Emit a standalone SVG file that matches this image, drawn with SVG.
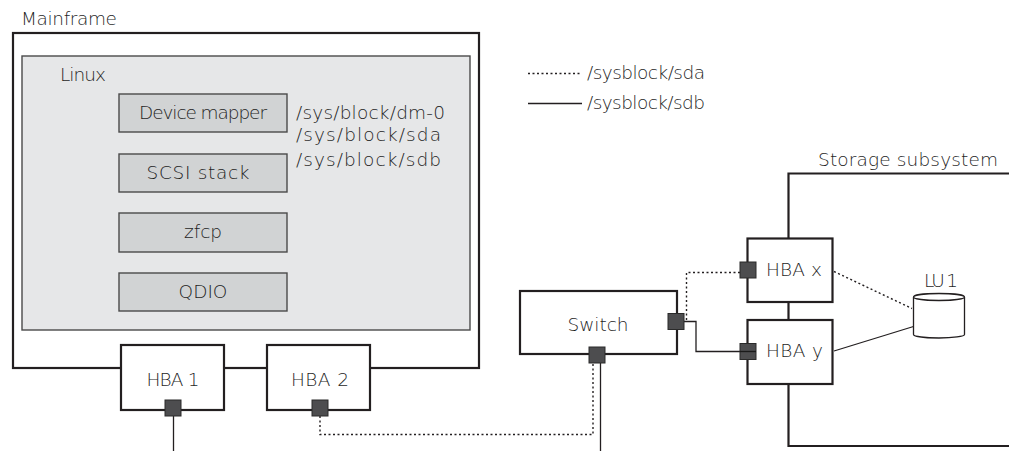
<svg xmlns="http://www.w3.org/2000/svg" width="1009" height="451" viewBox="0 0 1009 451">
  <style>
    text { font-family: "DejaVu Sans", "Liberation Sans", sans-serif; font-size: 18.5px; fill: #1f1f1f; font-weight: 200; }
    .mid { text-anchor: middle; }
    .frame { fill: #ffffff; stroke: #231f20; stroke-width: 2.2; }
    .layer { fill: #d1d3d4; stroke: #4a4a4a; stroke-width: 1.4; }
    .port { fill: #4d4d4f; stroke: #2a2a2a; stroke-width: 1; }
    .wire { fill: none; stroke: #231f20; stroke-width: 1.3; }
    .dot { fill: none; stroke: #231f20; stroke-width: 1.4; stroke-dasharray: 2 2.5; }
    .edge { fill: none; stroke: #231f20; stroke-width: 2.2; }
  </style>

  <!-- mainframe with the Linux image -->
  <g id="mainframe">
    <rect class="frame" x="13" y="33" width="466" height="335"/>
    <text x="21" y="25" textLength="96">Mainframe</text>
  </g>
  <g id="linux">
    <rect x="22" y="56" width="448" height="274" fill="#e6e7e8" stroke="#4a4a4a" stroke-width="1.4"/>
    <text x="60" y="81" textLength="46">Linux</text>
  </g>
  <g id="device-mapper">
    <rect class="layer" x="119" y="94" width="168" height="38"/>
    <text class="mid" x="203" y="119" textLength="128">Device mapper</text>
    <text x="296" y="119" textLength="149">/sys/block/dm-0</text>
  </g>
  <g id="scsi-stack">
    <rect class="layer" x="119" y="154" width="168" height="38"/>
    <text class="mid" x="198" y="179" textLength="103">SCSI stack</text>
    <text x="296" y="141" textLength="145">/sys/block/sda</text>
    <text x="296" y="166" textLength="145">/sys/block/sdb</text>
  </g>
  <g id="zfcp">
    <rect class="layer" x="119" y="213" width="168" height="39"/>
    <text class="mid" x="203" y="238">zfcp</text>
  </g>
  <g id="qdio">
    <rect class="layer" x="119" y="273" width="168" height="38"/>
    <text class="mid" x="203" y="298">QDIO</text>
  </g>

  <!-- host bus adapters on the mainframe edge -->
  <g id="hba1">
    <rect class="frame" x="121" y="345" width="103" height="65"/>
    <text class="mid" x="173" y="386" textLength="53">HBA 1</text>
  </g>
  <g id="hba2">
    <rect class="frame" x="267" y="345" width="103" height="65"/>
    <text class="mid" x="320" y="386" textLength="58">HBA 2</text>
  </g>

  <!-- storage subsystem outline -->
  <g id="storage">
    <path class="edge" d="M1009 173.5 H788.5 V238 M788.5 302 V320 M788.5 384 V446 H1009"/>
    <text x="818" y="166" textLength="180">Storage subsystem</text>
  </g>

  <!-- legend -->
  <g id="legend">
    <line class="dot" x1="528" y1="73.5" x2="582" y2="73.5" stroke-dasharray="1.5 2"/>
    <text x="587" y="79" textLength="118">/sysblock/sda</text>
    <line class="wire" x1="528" y1="103.5" x2="582" y2="103.5"/>
    <text x="587" y="109" textLength="118">/sysblock/sdb</text>
  </g>

  <!-- fibre connections -->
  <g id="connectors">
    <line class="wire" x1="173.5" y1="416" x2="173.5" y2="451" stroke="#555"/>
    <path class="dot" d="M320 416 V434.5 H593 V362"/>
    <line class="wire" x1="600.5" y1="362" x2="600.5" y2="451"/>
    <path class="dot" d="M686.5 320 V272.5 H740"/>
    <path class="wire" d="M684 321.5 H696 V351.5 H756" stroke="#444"/>
    <path class="dot" d="M834 271.5 L912 308.5"/>
    <path class="wire" d="M834 351 L913.5 326.5"/>
  </g>

  <g id="switch">
    <rect class="frame" x="520" y="291" width="157" height="63"/>
    <text class="mid" x="598" y="331" textLength="61">Switch</text>
  </g>
  <g id="hba-x">
    <rect class="frame" x="747.5" y="238.5" width="85" height="63.5"/>
    <text x="766" y="276" textLength="56">HBA x</text>
  </g>
  <g id="hba-y">
    <rect class="frame" x="747.5" y="320" width="85" height="64"/>
    <text x="766" y="357" textLength="57">HBA y</text>
  </g>
  <g id="lu1">
    <path d="M913.5 297 V334.5 A25.5 3.5 0 0 0 964.5 334.5 V297" fill="#fff" stroke="#231f20" stroke-width="1.3"/>
    <ellipse cx="939" cy="297" rx="25.5" ry="3.5" fill="#fff" stroke="#231f20" stroke-width="1.3"/>
    <text x="924" y="287" textLength="34">LU 1</text>
  </g>

  <!-- ports -->
  <g id="ports">
    <rect class="port" x="165" y="400" width="16" height="16"/>
    <rect class="port" x="312" y="400" width="16" height="16"/>
    <rect class="port" x="589" y="347" width="16" height="16"/>
    <rect class="port" x="668" y="313.5" width="16" height="16"/>
    <rect class="port" x="740" y="262" width="16" height="16"/>
    <rect class="port" x="740" y="343.5" width="16" height="16"/>
    <line x1="740" y1="351.5" x2="756" y2="351.5" stroke="#1a1a1a" stroke-width="1.3"/>
  </g>
</svg>
